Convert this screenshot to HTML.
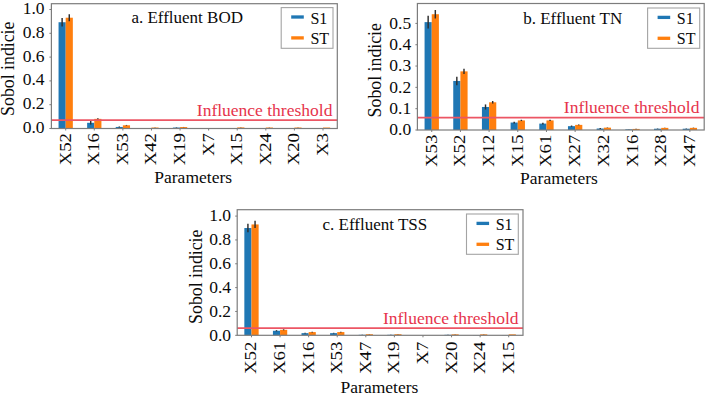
<!DOCTYPE html>
<html><head><meta charset="utf-8"><style>
html,body{margin:0;padding:0;background:#fff;}
svg{display:block;}
text{font-family:"Liberation Serif",serif;font-size:17.5px;fill:#0a0a0a;}
</style></head><body>
<svg width="708" height="396" viewBox="0 0 708 396">
<rect width="708" height="396" fill="#fff"/>
<rect x="58.55" y="22.23" width="7.15" height="106.27" fill="#1f77b4"/>
<line x1="62.12" x2="62.12" y1="18.07" y2="26.40" stroke="#2e2e2e" stroke-width="1.45"/>
<rect x="65.69" y="17.71" width="7.15" height="110.79" fill="#ff7f0e"/>
<line x1="69.27" x2="69.27" y1="14.14" y2="21.28" stroke="#2e2e2e" stroke-width="1.45"/>
<rect x="87.14" y="122.79" width="7.15" height="5.71" fill="#1f77b4"/>
<line x1="90.71" x2="90.71" y1="121.00" y2="124.57" stroke="#2e2e2e" stroke-width="1.45"/>
<rect x="94.28" y="118.86" width="7.15" height="9.64" fill="#ff7f0e"/>
<line x1="97.86" x2="97.86" y1="118.15" y2="119.58" stroke="#2e2e2e" stroke-width="1.45"/>
<rect x="115.73" y="126.95" width="7.15" height="1.55" fill="#1f77b4"/>
<line x1="119.30" x2="119.30" y1="126.48" y2="127.43" stroke="#2e2e2e" stroke-width="1.45"/>
<rect x="122.88" y="125.29" width="7.15" height="3.21" fill="#ff7f0e"/>
<line x1="126.45" x2="126.45" y1="124.93" y2="125.64" stroke="#2e2e2e" stroke-width="1.45"/>
<rect x="144.32" y="128.14" width="7.15" height="0.36" fill="#1f77b4"/>
<line x1="147.89" x2="147.89" y1="128.02" y2="128.26" stroke="#2e2e2e" stroke-width="1.45"/>
<rect x="151.47" y="127.55" width="7.15" height="0.95" fill="#ff7f0e"/>
<line x1="155.04" x2="155.04" y1="127.43" y2="127.67" stroke="#2e2e2e" stroke-width="1.45"/>
<rect x="172.91" y="127.55" width="7.15" height="0.95" fill="#1f77b4"/>
<line x1="176.48" x2="176.48" y1="127.31" y2="127.79" stroke="#2e2e2e" stroke-width="1.45"/>
<rect x="180.06" y="127.07" width="7.15" height="1.43" fill="#ff7f0e"/>
<line x1="183.63" x2="183.63" y1="126.95" y2="127.19" stroke="#2e2e2e" stroke-width="1.45"/>
<rect x="208.65" y="128.38" width="7.15" height="0.12" fill="#ff7f0e"/>
<rect x="230.09" y="128.26" width="7.15" height="0.24" fill="#1f77b4"/>
<line x1="233.66" x2="233.66" y1="128.14" y2="128.38" stroke="#2e2e2e" stroke-width="1.45"/>
<rect x="237.24" y="127.43" width="7.15" height="1.07" fill="#ff7f0e"/>
<line x1="240.81" x2="240.81" y1="127.31" y2="127.55" stroke="#2e2e2e" stroke-width="1.45"/>
<rect x="258.68" y="128.14" width="7.15" height="0.36" fill="#1f77b4"/>
<line x1="262.25" x2="262.25" y1="128.02" y2="128.26" stroke="#2e2e2e" stroke-width="1.45"/>
<rect x="265.82" y="127.55" width="7.15" height="0.95" fill="#ff7f0e"/>
<line x1="269.40" x2="269.40" y1="127.43" y2="127.67" stroke="#2e2e2e" stroke-width="1.45"/>
<rect x="287.27" y="128.26" width="7.15" height="0.24" fill="#1f77b4"/>
<line x1="290.84" x2="290.84" y1="128.14" y2="128.38" stroke="#2e2e2e" stroke-width="1.45"/>
<rect x="294.42" y="127.55" width="7.15" height="0.95" fill="#ff7f0e"/>
<line x1="297.99" x2="297.99" y1="127.43" y2="127.67" stroke="#2e2e2e" stroke-width="1.45"/>
<rect x="315.86" y="128.38" width="7.15" height="0.12" fill="#1f77b4"/>
<rect x="323.00" y="127.55" width="7.15" height="0.95" fill="#ff7f0e"/>
<line x1="51.40" x2="337.30" y1="120.10" y2="120.10" stroke="#ec5664" stroke-width="1.9"/>
<rect x="51.40" y="3.70" width="285.90" height="124.80" fill="none" stroke="#7c7c7c" stroke-width="1.2"/>
<line x1="49.40" x2="51.40" y1="128.50" y2="128.50" stroke="#7c7c7c" stroke-width="1"/>
<text x="44.50" y="132.90" text-anchor="end">0.0</text>
<line x1="49.40" x2="51.40" y1="104.70" y2="104.70" stroke="#7c7c7c" stroke-width="1"/>
<text x="44.50" y="109.10" text-anchor="end">0.2</text>
<line x1="49.40" x2="51.40" y1="80.90" y2="80.90" stroke="#7c7c7c" stroke-width="1"/>
<text x="44.50" y="85.30" text-anchor="end">0.4</text>
<line x1="49.40" x2="51.40" y1="57.10" y2="57.10" stroke="#7c7c7c" stroke-width="1"/>
<text x="44.50" y="61.50" text-anchor="end">0.6</text>
<line x1="49.40" x2="51.40" y1="33.30" y2="33.30" stroke="#7c7c7c" stroke-width="1"/>
<text x="44.50" y="37.70" text-anchor="end">0.8</text>
<line x1="49.40" x2="51.40" y1="9.50" y2="9.50" stroke="#7c7c7c" stroke-width="1"/>
<text x="44.50" y="13.90" text-anchor="end">1.0</text>
<line x1="65.69" x2="65.69" y1="128.50" y2="130.50" stroke="#7c7c7c" stroke-width="1"/>
<text transform="translate(70.69,133.00) rotate(-90) scale(1,0.92)" text-anchor="end" style="font-size:18.8px">X52</text>
<line x1="94.28" x2="94.28" y1="128.50" y2="130.50" stroke="#7c7c7c" stroke-width="1"/>
<text transform="translate(99.28,133.00) rotate(-90) scale(1,0.92)" text-anchor="end" style="font-size:18.8px">X16</text>
<line x1="122.88" x2="122.88" y1="128.50" y2="130.50" stroke="#7c7c7c" stroke-width="1"/>
<text transform="translate(127.88,133.00) rotate(-90) scale(1,0.92)" text-anchor="end" style="font-size:18.8px">X53</text>
<line x1="151.47" x2="151.47" y1="128.50" y2="130.50" stroke="#7c7c7c" stroke-width="1"/>
<text transform="translate(156.47,133.00) rotate(-90) scale(1,0.92)" text-anchor="end" style="font-size:18.8px">X42</text>
<line x1="180.06" x2="180.06" y1="128.50" y2="130.50" stroke="#7c7c7c" stroke-width="1"/>
<text transform="translate(185.06,133.00) rotate(-90) scale(1,0.92)" text-anchor="end" style="font-size:18.8px">X19</text>
<line x1="208.65" x2="208.65" y1="128.50" y2="130.50" stroke="#7c7c7c" stroke-width="1"/>
<text transform="translate(213.65,133.00) rotate(-90) scale(1,0.92)" text-anchor="end" style="font-size:18.8px">X7</text>
<line x1="237.24" x2="237.24" y1="128.50" y2="130.50" stroke="#7c7c7c" stroke-width="1"/>
<text transform="translate(242.24,133.00) rotate(-90) scale(1,0.92)" text-anchor="end" style="font-size:18.8px">X15</text>
<line x1="265.82" x2="265.82" y1="128.50" y2="130.50" stroke="#7c7c7c" stroke-width="1"/>
<text transform="translate(270.82,133.00) rotate(-90) scale(1,0.92)" text-anchor="end" style="font-size:18.8px">X24</text>
<line x1="294.42" x2="294.42" y1="128.50" y2="130.50" stroke="#7c7c7c" stroke-width="1"/>
<text transform="translate(299.42,133.00) rotate(-90) scale(1,0.92)" text-anchor="end" style="font-size:18.8px">X20</text>
<line x1="323.00" x2="323.00" y1="128.50" y2="130.50" stroke="#7c7c7c" stroke-width="1"/>
<text transform="translate(328.00,133.00) rotate(-90) scale(1,0.92)" text-anchor="end" style="font-size:18.8px">X3</text>
<text x="131.40" y="23.00" style="font-size:17px">a. Effluent BOD</text>
<text x="332.40" y="116.20" text-anchor="end" style="fill:#e6344b">Influence threshold</text>
<rect x="281.20" y="7.60" width="51.80" height="40.70" fill="#fff" stroke="#a4a4a4" stroke-width="1.1"/>
<line x1="291.20" x2="303.80" y1="17.00" y2="17.00" stroke="#1f77b4" stroke-width="3.3"/>
<line x1="291.20" x2="303.80" y1="37.90" y2="37.90" stroke="#ff7f0e" stroke-width="3.3"/>
<text x="310.40" y="23.80" style="font-size:16px">S1</text>
<text x="310.40" y="43.50" style="font-size:16px">ST</text>
<text transform="translate(14.40,115.90) rotate(-90)" style="font-size:17.8px">Sobol indicie</text>
<text x="154.30" y="182.50">Parameters</text>
<rect x="424.57" y="22.12" width="7.17" height="107.88" fill="#1f77b4"/>
<line x1="428.15" x2="428.15" y1="15.72" y2="28.52" stroke="#2e2e2e" stroke-width="1.45"/>
<rect x="431.74" y="14.23" width="7.17" height="115.77" fill="#ff7f0e"/>
<line x1="435.32" x2="435.32" y1="9.97" y2="18.50" stroke="#2e2e2e" stroke-width="1.45"/>
<rect x="453.25" y="80.96" width="7.17" height="49.04" fill="#1f77b4"/>
<line x1="456.83" x2="456.83" y1="76.70" y2="85.23" stroke="#2e2e2e" stroke-width="1.45"/>
<rect x="460.42" y="71.37" width="7.17" height="58.63" fill="#ff7f0e"/>
<line x1="464.00" x2="464.00" y1="68.81" y2="73.93" stroke="#2e2e2e" stroke-width="1.45"/>
<rect x="481.93" y="106.97" width="7.17" height="23.03" fill="#1f77b4"/>
<line x1="485.51" x2="485.51" y1="104.42" y2="109.53" stroke="#2e2e2e" stroke-width="1.45"/>
<rect x="489.10" y="102.28" width="7.17" height="27.72" fill="#ff7f0e"/>
<line x1="492.69" x2="492.69" y1="101.00" y2="103.56" stroke="#2e2e2e" stroke-width="1.45"/>
<rect x="510.61" y="122.54" width="7.17" height="7.46" fill="#1f77b4"/>
<line x1="514.19" x2="514.19" y1="121.69" y2="123.39" stroke="#2e2e2e" stroke-width="1.45"/>
<rect x="517.78" y="120.41" width="7.17" height="9.59" fill="#ff7f0e"/>
<line x1="521.37" x2="521.37" y1="119.77" y2="121.05" stroke="#2e2e2e" stroke-width="1.45"/>
<rect x="539.29" y="123.60" width="7.17" height="6.40" fill="#1f77b4"/>
<line x1="542.88" x2="542.88" y1="122.75" y2="124.46" stroke="#2e2e2e" stroke-width="1.45"/>
<rect x="546.46" y="120.41" width="7.17" height="9.59" fill="#ff7f0e"/>
<line x1="550.05" x2="550.05" y1="119.77" y2="121.05" stroke="#2e2e2e" stroke-width="1.45"/>
<rect x="567.97" y="126.16" width="7.17" height="3.84" fill="#1f77b4"/>
<line x1="571.56" x2="571.56" y1="125.52" y2="126.80" stroke="#2e2e2e" stroke-width="1.45"/>
<rect x="575.14" y="124.88" width="7.17" height="5.12" fill="#ff7f0e"/>
<line x1="578.73" x2="578.73" y1="124.46" y2="125.31" stroke="#2e2e2e" stroke-width="1.45"/>
<rect x="596.65" y="128.51" width="7.17" height="1.49" fill="#1f77b4"/>
<line x1="600.24" x2="600.24" y1="128.08" y2="128.93" stroke="#2e2e2e" stroke-width="1.45"/>
<rect x="603.82" y="127.65" width="7.17" height="2.35" fill="#ff7f0e"/>
<line x1="607.41" x2="607.41" y1="127.44" y2="127.87" stroke="#2e2e2e" stroke-width="1.45"/>
<rect x="625.33" y="129.36" width="7.17" height="0.64" fill="#1f77b4"/>
<line x1="628.92" x2="628.92" y1="129.15" y2="129.57" stroke="#2e2e2e" stroke-width="1.45"/>
<rect x="632.50" y="128.93" width="7.17" height="1.07" fill="#ff7f0e"/>
<line x1="636.09" x2="636.09" y1="128.72" y2="129.15" stroke="#2e2e2e" stroke-width="1.45"/>
<rect x="654.01" y="128.72" width="7.17" height="1.28" fill="#1f77b4"/>
<line x1="657.60" x2="657.60" y1="128.51" y2="128.93" stroke="#2e2e2e" stroke-width="1.45"/>
<rect x="661.18" y="127.87" width="7.17" height="2.13" fill="#ff7f0e"/>
<line x1="664.77" x2="664.77" y1="127.65" y2="128.08" stroke="#2e2e2e" stroke-width="1.45"/>
<rect x="682.69" y="128.72" width="7.17" height="1.28" fill="#1f77b4"/>
<line x1="686.28" x2="686.28" y1="128.51" y2="128.93" stroke="#2e2e2e" stroke-width="1.45"/>
<rect x="689.86" y="127.87" width="7.17" height="2.13" fill="#ff7f0e"/>
<line x1="693.45" x2="693.45" y1="127.65" y2="128.08" stroke="#2e2e2e" stroke-width="1.45"/>
<line x1="417.40" x2="704.20" y1="117.60" y2="117.60" stroke="#ec5664" stroke-width="1.9"/>
<rect x="417.40" y="3.50" width="286.80" height="126.50" fill="none" stroke="#7c7c7c" stroke-width="1.2"/>
<line x1="415.40" x2="417.40" y1="130.00" y2="130.00" stroke="#7c7c7c" stroke-width="1"/>
<text x="411.20" y="135.20" text-anchor="end">0.0</text>
<line x1="415.40" x2="417.40" y1="108.68" y2="108.68" stroke="#7c7c7c" stroke-width="1"/>
<text x="411.20" y="113.88" text-anchor="end">0.1</text>
<line x1="415.40" x2="417.40" y1="87.36" y2="87.36" stroke="#7c7c7c" stroke-width="1"/>
<text x="411.20" y="92.56" text-anchor="end">0.2</text>
<line x1="415.40" x2="417.40" y1="66.04" y2="66.04" stroke="#7c7c7c" stroke-width="1"/>
<text x="411.20" y="71.24" text-anchor="end">0.3</text>
<line x1="415.40" x2="417.40" y1="44.72" y2="44.72" stroke="#7c7c7c" stroke-width="1"/>
<text x="411.20" y="49.92" text-anchor="end">0.4</text>
<line x1="415.40" x2="417.40" y1="23.40" y2="23.40" stroke="#7c7c7c" stroke-width="1"/>
<text x="411.20" y="28.60" text-anchor="end">0.5</text>
<line x1="431.74" x2="431.74" y1="130.00" y2="132.00" stroke="#7c7c7c" stroke-width="1"/>
<text transform="translate(436.74,134.60) rotate(-90) scale(1,0.92)" text-anchor="end" style="font-size:18.8px">X53</text>
<line x1="460.42" x2="460.42" y1="130.00" y2="132.00" stroke="#7c7c7c" stroke-width="1"/>
<text transform="translate(465.42,134.60) rotate(-90) scale(1,0.92)" text-anchor="end" style="font-size:18.8px">X52</text>
<line x1="489.10" x2="489.10" y1="130.00" y2="132.00" stroke="#7c7c7c" stroke-width="1"/>
<text transform="translate(494.10,134.60) rotate(-90) scale(1,0.92)" text-anchor="end" style="font-size:18.8px">X12</text>
<line x1="517.78" x2="517.78" y1="130.00" y2="132.00" stroke="#7c7c7c" stroke-width="1"/>
<text transform="translate(522.78,134.60) rotate(-90) scale(1,0.92)" text-anchor="end" style="font-size:18.8px">X15</text>
<line x1="546.46" x2="546.46" y1="130.00" y2="132.00" stroke="#7c7c7c" stroke-width="1"/>
<text transform="translate(551.46,134.60) rotate(-90) scale(1,0.92)" text-anchor="end" style="font-size:18.8px">X61</text>
<line x1="575.14" x2="575.14" y1="130.00" y2="132.00" stroke="#7c7c7c" stroke-width="1"/>
<text transform="translate(580.14,134.60) rotate(-90) scale(1,0.92)" text-anchor="end" style="font-size:18.8px">X27</text>
<line x1="603.82" x2="603.82" y1="130.00" y2="132.00" stroke="#7c7c7c" stroke-width="1"/>
<text transform="translate(608.82,134.60) rotate(-90) scale(1,0.92)" text-anchor="end" style="font-size:18.8px">X32</text>
<line x1="632.50" x2="632.50" y1="130.00" y2="132.00" stroke="#7c7c7c" stroke-width="1"/>
<text transform="translate(637.50,134.60) rotate(-90) scale(1,0.92)" text-anchor="end" style="font-size:18.8px">X16</text>
<line x1="661.18" x2="661.18" y1="130.00" y2="132.00" stroke="#7c7c7c" stroke-width="1"/>
<text transform="translate(666.18,134.60) rotate(-90) scale(1,0.92)" text-anchor="end" style="font-size:18.8px">X28</text>
<line x1="689.86" x2="689.86" y1="130.00" y2="132.00" stroke="#7c7c7c" stroke-width="1"/>
<text transform="translate(694.86,134.60) rotate(-90) scale(1,0.92)" text-anchor="end" style="font-size:18.8px">X47</text>
<text x="523.20" y="23.50" style="font-size:17px">b. Effluent TN</text>
<text x="699.40" y="113.40" text-anchor="end" style="fill:#e6344b">Influence threshold</text>
<rect x="647.60" y="8.00" width="52.10" height="40.30" fill="#fff" stroke="#a4a4a4" stroke-width="1.1"/>
<line x1="657.60" x2="670.20" y1="17.40" y2="17.40" stroke="#1f77b4" stroke-width="3.3"/>
<line x1="657.60" x2="670.20" y1="38.30" y2="38.30" stroke="#ff7f0e" stroke-width="3.3"/>
<text x="676.80" y="24.20" style="font-size:16px">S1</text>
<text x="676.80" y="43.90" style="font-size:16px">ST</text>
<text transform="translate(380.80,117.40) rotate(-90)" style="font-size:17.8px">Sobol indicie</text>
<text x="520.10" y="184.10">Parameters</text>
<rect x="244.34" y="228.02" width="7.15" height="107.28" fill="#1f77b4"/>
<line x1="247.92" x2="247.92" y1="223.85" y2="232.19" stroke="#2e2e2e" stroke-width="1.45"/>
<rect x="251.49" y="224.44" width="7.15" height="110.86" fill="#ff7f0e"/>
<line x1="255.06" x2="255.06" y1="220.87" y2="228.02" stroke="#2e2e2e" stroke-width="1.45"/>
<rect x="272.93" y="330.77" width="7.15" height="4.53" fill="#1f77b4"/>
<line x1="276.50" x2="276.50" y1="330.17" y2="331.37" stroke="#2e2e2e" stroke-width="1.45"/>
<rect x="280.07" y="329.82" width="7.15" height="5.48" fill="#ff7f0e"/>
<line x1="283.64" x2="283.64" y1="329.34" y2="330.29" stroke="#2e2e2e" stroke-width="1.45"/>
<rect x="301.50" y="333.15" width="7.15" height="2.15" fill="#1f77b4"/>
<line x1="305.08" x2="305.08" y1="332.80" y2="333.51" stroke="#2e2e2e" stroke-width="1.45"/>
<rect x="308.65" y="332.08" width="7.15" height="3.22" fill="#ff7f0e"/>
<line x1="312.22" x2="312.22" y1="331.72" y2="332.44" stroke="#2e2e2e" stroke-width="1.45"/>
<rect x="330.09" y="333.15" width="7.15" height="2.15" fill="#1f77b4"/>
<line x1="333.66" x2="333.66" y1="332.80" y2="333.51" stroke="#2e2e2e" stroke-width="1.45"/>
<rect x="337.23" y="332.08" width="7.15" height="3.22" fill="#ff7f0e"/>
<line x1="340.80" x2="340.80" y1="331.72" y2="332.44" stroke="#2e2e2e" stroke-width="1.45"/>
<rect x="358.67" y="334.82" width="7.15" height="0.48" fill="#1f77b4"/>
<line x1="362.24" x2="362.24" y1="334.70" y2="334.94" stroke="#2e2e2e" stroke-width="1.45"/>
<rect x="365.81" y="334.23" width="7.15" height="1.07" fill="#ff7f0e"/>
<line x1="369.38" x2="369.38" y1="334.11" y2="334.35" stroke="#2e2e2e" stroke-width="1.45"/>
<rect x="387.25" y="334.82" width="7.15" height="0.48" fill="#1f77b4"/>
<line x1="390.82" x2="390.82" y1="334.70" y2="334.94" stroke="#2e2e2e" stroke-width="1.45"/>
<rect x="394.39" y="334.23" width="7.15" height="1.07" fill="#ff7f0e"/>
<line x1="397.96" x2="397.96" y1="334.11" y2="334.35" stroke="#2e2e2e" stroke-width="1.45"/>
<rect x="422.97" y="335.18" width="7.15" height="0.12" fill="#ff7f0e"/>
<rect x="444.41" y="334.82" width="7.15" height="0.48" fill="#1f77b4"/>
<line x1="447.98" x2="447.98" y1="334.70" y2="334.94" stroke="#2e2e2e" stroke-width="1.45"/>
<rect x="451.55" y="334.35" width="7.15" height="0.95" fill="#ff7f0e"/>
<line x1="455.12" x2="455.12" y1="334.23" y2="334.47" stroke="#2e2e2e" stroke-width="1.45"/>
<rect x="472.99" y="335.06" width="7.15" height="0.24" fill="#1f77b4"/>
<rect x="480.13" y="334.35" width="7.15" height="0.95" fill="#ff7f0e"/>
<line x1="483.70" x2="483.70" y1="334.23" y2="334.47" stroke="#2e2e2e" stroke-width="1.45"/>
<rect x="501.56" y="335.06" width="7.15" height="0.24" fill="#1f77b4"/>
<rect x="508.71" y="334.35" width="7.15" height="0.95" fill="#ff7f0e"/>
<line x1="237.20" x2="523.00" y1="328.10" y2="328.10" stroke="#ec5664" stroke-width="1.9"/>
<rect x="237.20" y="209.70" width="285.80" height="125.60" fill="none" stroke="#7c7c7c" stroke-width="1.2"/>
<line x1="235.20" x2="237.20" y1="335.30" y2="335.30" stroke="#7c7c7c" stroke-width="1"/>
<text x="231.00" y="340.50" text-anchor="end">0.0</text>
<line x1="235.20" x2="237.20" y1="311.46" y2="311.46" stroke="#7c7c7c" stroke-width="1"/>
<text x="231.00" y="316.66" text-anchor="end">0.2</text>
<line x1="235.20" x2="237.20" y1="287.62" y2="287.62" stroke="#7c7c7c" stroke-width="1"/>
<text x="231.00" y="292.82" text-anchor="end">0.4</text>
<line x1="235.20" x2="237.20" y1="263.78" y2="263.78" stroke="#7c7c7c" stroke-width="1"/>
<text x="231.00" y="268.98" text-anchor="end">0.6</text>
<line x1="235.20" x2="237.20" y1="239.94" y2="239.94" stroke="#7c7c7c" stroke-width="1"/>
<text x="231.00" y="245.14" text-anchor="end">0.8</text>
<line x1="235.20" x2="237.20" y1="216.10" y2="216.10" stroke="#7c7c7c" stroke-width="1"/>
<text x="231.00" y="221.30" text-anchor="end">1.0</text>
<line x1="251.49" x2="251.49" y1="335.30" y2="337.30" stroke="#7c7c7c" stroke-width="1"/>
<text transform="translate(256.49,341.60) rotate(-90) scale(1,0.92)" text-anchor="end" style="font-size:18.8px">X52</text>
<line x1="280.07" x2="280.07" y1="335.30" y2="337.30" stroke="#7c7c7c" stroke-width="1"/>
<text transform="translate(285.07,341.60) rotate(-90) scale(1,0.92)" text-anchor="end" style="font-size:18.8px">X61</text>
<line x1="308.65" x2="308.65" y1="335.30" y2="337.30" stroke="#7c7c7c" stroke-width="1"/>
<text transform="translate(313.65,341.60) rotate(-90) scale(1,0.92)" text-anchor="end" style="font-size:18.8px">X16</text>
<line x1="337.23" x2="337.23" y1="335.30" y2="337.30" stroke="#7c7c7c" stroke-width="1"/>
<text transform="translate(342.23,341.60) rotate(-90) scale(1,0.92)" text-anchor="end" style="font-size:18.8px">X53</text>
<line x1="365.81" x2="365.81" y1="335.30" y2="337.30" stroke="#7c7c7c" stroke-width="1"/>
<text transform="translate(370.81,341.60) rotate(-90) scale(1,0.92)" text-anchor="end" style="font-size:18.8px">X47</text>
<line x1="394.39" x2="394.39" y1="335.30" y2="337.30" stroke="#7c7c7c" stroke-width="1"/>
<text transform="translate(399.39,341.60) rotate(-90) scale(1,0.92)" text-anchor="end" style="font-size:18.8px">X19</text>
<line x1="422.97" x2="422.97" y1="335.30" y2="337.30" stroke="#7c7c7c" stroke-width="1"/>
<text transform="translate(427.97,341.60) rotate(-90) scale(1,0.92)" text-anchor="end" style="font-size:18.8px">X7</text>
<line x1="451.55" x2="451.55" y1="335.30" y2="337.30" stroke="#7c7c7c" stroke-width="1"/>
<text transform="translate(456.55,341.60) rotate(-90) scale(1,0.92)" text-anchor="end" style="font-size:18.8px">X20</text>
<line x1="480.13" x2="480.13" y1="335.30" y2="337.30" stroke="#7c7c7c" stroke-width="1"/>
<text transform="translate(485.13,341.60) rotate(-90) scale(1,0.92)" text-anchor="end" style="font-size:18.8px">X24</text>
<line x1="508.71" x2="508.71" y1="335.30" y2="337.30" stroke="#7c7c7c" stroke-width="1"/>
<text transform="translate(513.71,341.60) rotate(-90) scale(1,0.92)" text-anchor="end" style="font-size:18.8px">X15</text>
<text x="322.50" y="230.30" style="font-size:17px">c. Effluent TSS</text>
<text x="518.50" y="323.80" text-anchor="end" style="fill:#e6344b">Influence threshold</text>
<rect x="466.50" y="214.00" width="51.80" height="40.30" fill="#fff" stroke="#a4a4a4" stroke-width="1.1"/>
<line x1="476.50" x2="489.10" y1="223.40" y2="223.40" stroke="#1f77b4" stroke-width="3.3"/>
<line x1="476.50" x2="489.10" y1="244.30" y2="244.30" stroke="#ff7f0e" stroke-width="3.3"/>
<text x="495.70" y="230.20" style="font-size:16px">S1</text>
<text x="495.70" y="249.90" style="font-size:16px">ST</text>
<text transform="translate(201.50,323.90) rotate(-90)" style="font-size:17.8px">Sobol indicie</text>
<text x="340.60" y="392.90">Parameters</text>
</svg>
</body></html>
